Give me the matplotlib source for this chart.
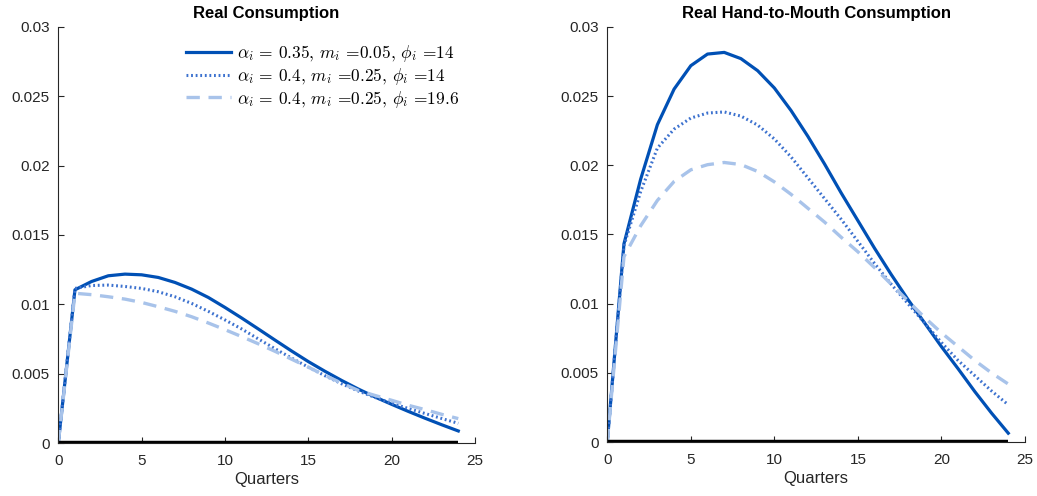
import matplotlib
matplotlib.use("Agg")
import matplotlib.pyplot as plt
import numpy as np

plt.rcParams['font.family'] = ['Liberation Sans', 'DejaVu Sans']
plt.rcParams['mathtext.fontset'] = 'cm'

# horizon in quarters
quarters = np.arange(25)

# Real Consumption
cons_a = [0, 0.01105, 0.01165, 0.01206, 0.01218, 0.01213, 0.01194, 0.01158, 0.0111, 0.0105,
          0.00978, 0.00902, 0.00823, 0.00743, 0.00664, 0.00588, 0.00518, 0.00452, 0.0039, 0.00333,
          0.0028, 0.00229, 0.0018, 0.00133, 0.00088]
cons_b = [0, 0.01115, 0.01136, 0.01139, 0.01129, 0.01115, 0.01091, 0.01055, 0.01007, 0.0095,
          0.00888, 0.00823, 0.00751, 0.00681, 0.00613, 0.00548, 0.00486, 0.00428, 0.00376, 0.0033,
          0.00288, 0.0025, 0.00214, 0.00178, 0.00143]
cons_c = [0, 0.0108, 0.0107, 0.01055, 0.01038, 0.01014, 0.00983, 0.0095, 0.00911, 0.00866,
          0.00818, 0.00768, 0.00716, 0.00662, 0.00605, 0.00548, 0.00488, 0.00433, 0.0038, 0.00344,
          0.00309, 0.00273, 0.00242, 0.00208, 0.00177]

# Real Hand-to-Mouth Consumption
htm_a = [0, 0.01433, 0.0190, 0.02293, 0.0255, 0.02719, 0.02803, 0.02815, 0.0277, 0.02683,
         0.02558, 0.02395, 0.0221, 0.0201, 0.0180, 0.0160, 0.0140, 0.0121, 0.0103, 0.0086,
         0.0069, 0.0053, 0.00365, 0.0021, 0.00065]
htm_b = [0, 0.0142, 0.0181, 0.02124, 0.02261, 0.02341, 0.02377, 0.02385, 0.02355, 0.0229,
         0.0219, 0.0206, 0.0191, 0.0176, 0.0161, 0.0145, 0.0129, 0.0114, 0.0100, 0.0086,
         0.0072, 0.0059, 0.0048, 0.0037, 0.0027]
htm_c = [0, 0.0134, 0.01563, 0.01746, 0.01883, 0.01967, 0.02004, 0.0202, 0.02005, 0.01955,
         0.0188, 0.0179, 0.0169, 0.0159, 0.0148, 0.01375, 0.0126, 0.0114, 0.0102, 0.0090,
         0.0079, 0.0069, 0.0059, 0.0050, 0.0042]

labels = [r'$\alpha_i\,=\,0.35$, $m_i$ =0.05, $\phi_i$ =14',
          r'$\alpha_i\,=\,0.4$, $m_i$ =0.25, $\phi_i$ =14',
          r'$\alpha_i\,=\,0.4$, $m_i$ =0.25, $\phi_i$ =19.6']
titles = ['Real Consumption', 'Real Hand-to-Mouth Consumption']
yticks = [0, 0.005, 0.01, 0.015, 0.02, 0.025, 0.03]
ytick_labels = ['0', '0.005', '0.01', '0.015', '0.02', '0.025', '0.03']
xticks = [0, 5, 10, 15, 20, 25]

fig = plt.figure(figsize=(10.37, 4.96), dpi=100)
ax1 = fig.add_axes([0.0562, 0.1065, 0.4018, 0.8395])
ax2 = fig.add_axes([0.5856, 0.1085, 0.4028, 0.8375])

panels = [(ax1, cons_a, cons_b, cons_c), (ax2, htm_a, htm_b, htm_c)]
for i, (ax, a, b, c) in enumerate(panels):
    ax.plot(quarters, a, color='#0050b5', lw=2.3, label=labels[0])
    ax.plot(quarters, b, color='#3d72cf', lw=2.2, linestyle=(0, (0.6, 0.9)), label=labels[1])
    ax.plot(quarters, c, color='#a8c3ea', lw=2.4, linestyle=(0, (4, 2.6)), label=labels[2])
    ax.plot(quarters, np.zeros(len(quarters)), color='black', lw=3.2, solid_capstyle='butt')

    ax.set_xlim(0, 25)
    ax.set_ylim(0, 0.03)
    ax.set_xticks(xticks)
    ax.set_yticks(yticks)
    ax.set_yticklabels(ytick_labels)
    ax.tick_params(direction='in', length=4, width=0.8, colors='#262626', labelsize=11)
    ax.tick_params(axis='x', pad=8)
    ax.tick_params(axis='y', pad=6)
    ax.spines['top'].set_visible(False)
    ax.spines['right'].set_visible(False)
    for s in ['left', 'bottom']:
        ax.spines[s].set_color('#262626')
        ax.spines[s].set_linewidth(0.8)
    ax.set_xlabel('Quarters', fontsize=12, color='#262626', labelpad=3)
    ax.set_title(titles[i], fontsize=12, fontweight='bold', pad=6)

leg = ax1.legend(loc='upper right', bbox_to_anchor=(0.99, 0.99), frameon=False,
                 prop={'family': 'cmr10', 'size': 12.5}, handlelength=2.6,
                 handletextpad=0.3, labelspacing=0.1, borderpad=0.2)

fig.savefig('out.png', dpi=100)
